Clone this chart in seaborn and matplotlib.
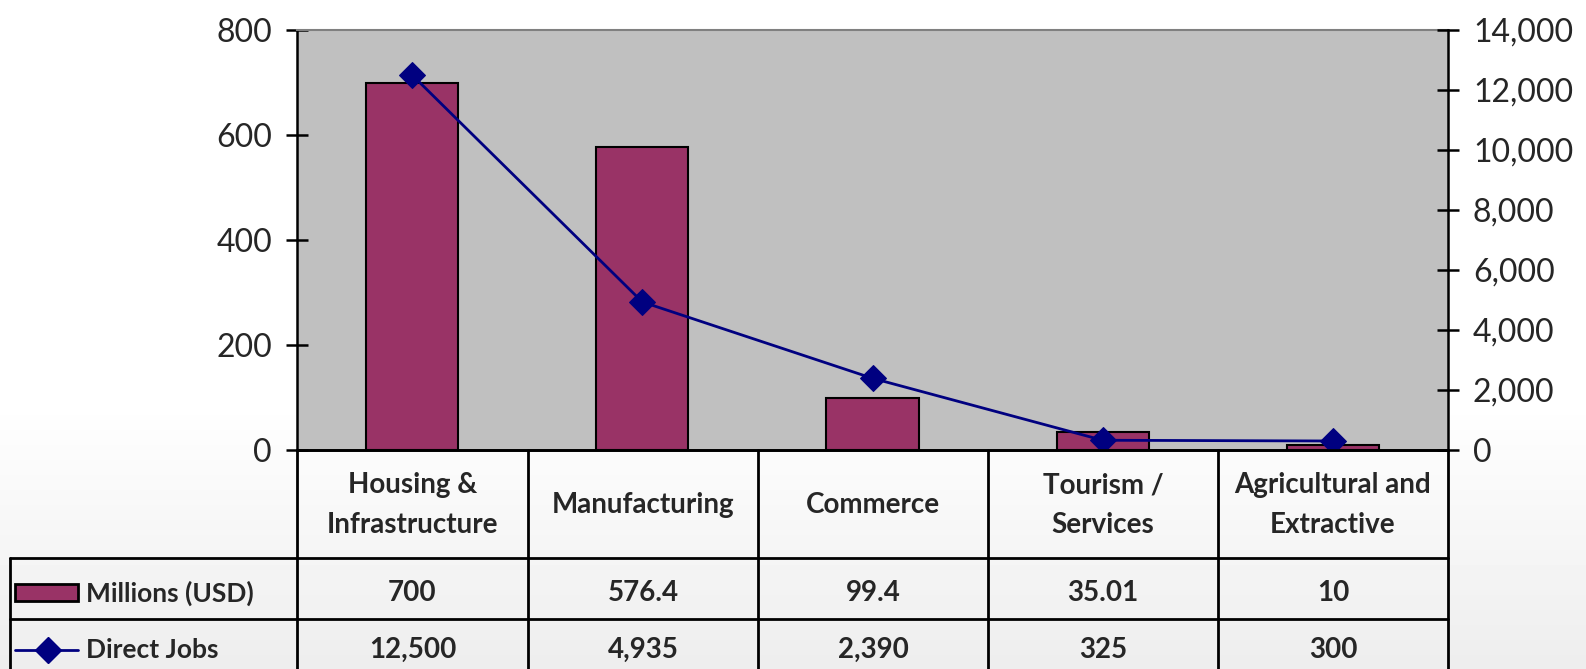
import numpy as np
import matplotlib
matplotlib.use("Agg")
import matplotlib.pyplot as plt
from matplotlib.lines import Line2D
from matplotlib.patches import Rectangle
from matplotlib.ticker import FuncFormatter
import seaborn as sns

categories = ["Housing &\nInfrastructure", "Manufacturing", "Commerce",
              "Tourism /\nServices", "Agricultural and\nExtractive"]
millions_usd = [700, 576.4, 99.4, 35.01, 10]
direct_jobs = [12500, 4935, 2390, 325, 300]
millions_text = ["700", "576.4", "99.4", "35.01", "10"]
jobs_text = ["12,500", "4,935", "2,390", "325", "300"]

bar_color = "#993366"
line_color = "#000080"

sns.set_style("white")
plt.rcParams['font.family'] = ['Lato', 'DejaVu Sans']

W, H = 1586, 669
fig = plt.figure(figsize=(W / 100, H / 100), dpi=100)


def fx(x):
    return x / W


def fy(y):
    return 1 - y / H


# background gradient (white at top, light grey at bottom)
bg = fig.add_axes([0, 0, 1, 1], zorder=-10)
grad = np.ones(H)
grad[400:] = np.linspace(1.0, 0.93, H - 400)
bg.imshow(grad[:, None], aspect='auto', cmap='gray', vmin=0, vmax=1,
          extent=[0, 1, 0, 1])
bg.axis('off')

# plot area
left, right, top, bottom = 297, 1448, 30, 450
ax = fig.add_axes([fx(left), fy(bottom), fx(right - left), (bottom - top) / H])
ax.set_facecolor("#C0C0C0")

sns.barplot(x=list(range(len(categories))), y=millions_usd, ax=ax,
            color=bar_color, edgecolor="black", linewidth=1.5,
            width=0.4, saturation=1, native_scale=True)
ax.set_xlim(-0.5, len(categories) - 0.5)
ax.set_ylim(0, 800)
ax.set_yticks(range(0, 801, 200))
ax.set_xticks([])

ax2 = ax.twinx()
sns.lineplot(x=list(range(len(categories))), y=direct_jobs, ax=ax2,
             color=line_color, linewidth=2, marker='D', markersize=13,
             markeredgecolor=line_color)
ax2.set_ylim(0, 14000)
ax2.set_yticks(range(0, 14001, 2000))
ax2.yaxis.set_major_formatter(FuncFormatter(lambda v, p: f"{int(v):,}"))
ax2.set_xlim(-0.5, len(categories) - 0.5)

for a in (ax, ax2):
    a.tick_params(axis='y', direction='inout', length=16, width=1.8,
                  labelsize=23, color='black', pad=10)
    for s in a.spines.values():
        s.set_visible(False)
ax.spines['left'].set_visible(True)
ax.spines['left'].set_linewidth(1.8)
ax.spines['left'].set_color('black')
ax2.spines['right'].set_visible(True)
ax2.spines['right'].set_linewidth(1.8)
ax2.spines['right'].set_color('black')
ax.spines['bottom'].set_visible(True)
ax.spines['bottom'].set_linewidth(1.8)
ax.spines['bottom'].set_color('black')
ax.spines['top'].set_visible(True)
ax.spines['top'].set_linewidth(1.5)
ax.spines['top'].set_color('#808080')

# data table below the plot
col_edges = [297, 528, 758, 988, 1218, 1448]
row_edges = [450, 558, 619, 680]
lab_left = 10
lw = 2


def hline(x0, x1, y):
    fig.add_artist(Line2D([fx(x0), fx(x1)], [fy(y), fy(y)], color='black',
                          lw=lw, transform=fig.transFigure))


def vline(x, y0, y1):
    fig.add_artist(Line2D([fx(x), fx(x)], [fy(y0), fy(y1)], color='black',
                          lw=lw, transform=fig.transFigure))


hline(col_edges[0], col_edges[-1], row_edges[0])
hline(lab_left, col_edges[-1], row_edges[1])
hline(lab_left, col_edges[-1], row_edges[2])
for x in col_edges:
    vline(x, row_edges[0], row_edges[-1])
vline(lab_left, row_edges[1], row_edges[-1])

font_tbl = dict(fontsize=20, fontweight='bold', ha='center', va='center',
                linespacing=1.65)
for i, cat in enumerate(categories):
    cx = (col_edges[i] + col_edges[i + 1]) / 2
    fig.text(fx(cx), fy((row_edges[0] + row_edges[1]) / 2 + 1), cat, **font_tbl)
    fig.text(fx(cx), fy(593), millions_text[i], **font_tbl)
    fig.text(fx(cx), fy(650), jobs_text[i], **font_tbl)

# legend keys inside the table
fig.add_artist(Rectangle((fx(15), fy(601)), fx(63), 17 / H, facecolor=bar_color,
                         edgecolor='black', lw=2, transform=fig.transFigure))
fig.text(fx(86), fy(593), "Millions (USD)", fontsize=19, fontweight='bold',
         ha='left', va='center')
fig.add_artist(Line2D([fx(15), fx(78)], [fy(650), fy(650)], color=line_color,
                      lw=2, transform=fig.transFigure))
fig.add_artist(Line2D([fx(48)], [fy(650)], color=line_color, marker='D',
                      markersize=13, transform=fig.transFigure))
fig.text(fx(86), fy(650), "Direct Jobs", fontsize=19, fontweight='bold',
         ha='left', va='center')

fig.savefig("out.png", dpi=100)
